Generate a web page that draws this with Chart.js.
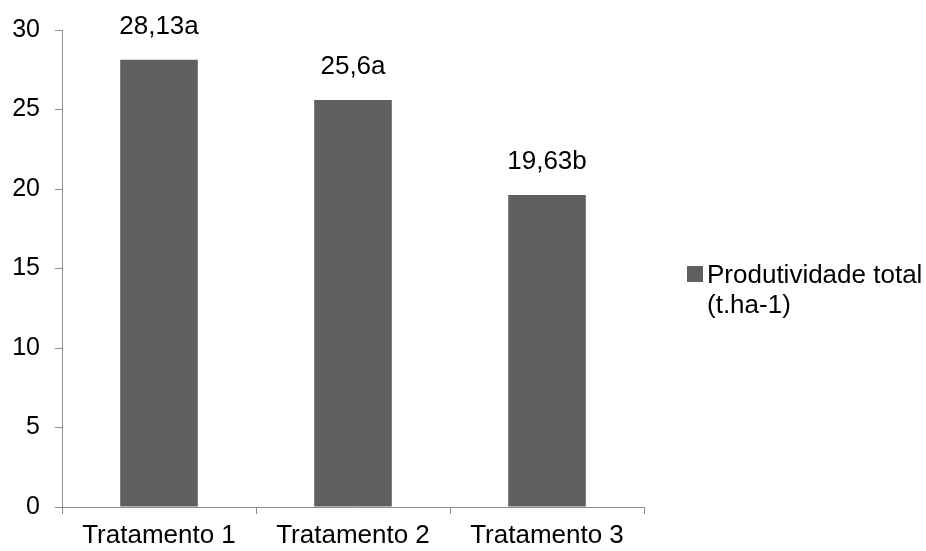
<!DOCTYPE html>
<html>
<head>
<meta charset="utf-8">
<script src="https://cdn.jsdelivr.net/npm/chart.js@4/dist/chart.umd.min.js"></script>
<style>
  html, body { margin: 0; padding: 0; background: #ffffff; }
  #wrap { width: 926px; height: 551px; position: relative; }
</style>
</head>
<body>
<div id="wrap"><canvas id="c" width="926" height="551"></canvas></div>
<script>
// Total yield per treatment, with significance letters
const categories = ["Tratamento 1", "Tratamento 2", "Tratamento 3"];
const productivity = [28.13, 25.6, 19.63];
const groups = ["a", "a", "b"];
const yTicks = [0, 5, 10, 15, 20, 25, 30];
const seriesLabel = ["Produtividade total", "(t.ha-1)"];

const FONT = "'Liberation Sans', Arial, sans-serif";
const BAR_COLOR = "#5f5f5f";
const AXIS_COLOR = "#8c8c8c";

function formatValue(v) {
  return String(v).replace(".", ",");
}

// value + letter above each bar
const barLabels = {
  id: "barLabels",
  afterDatasetsDraw(chart) {
    const ctx = chart.ctx;
    const meta = chart.getDatasetMeta(0);
    ctx.save();
    ctx.font = "26px " + FONT;
    ctx.fillStyle = "#000000";
    ctx.textAlign = "center";
    ctx.textBaseline = "alphabetic";
    meta.data.forEach((bar, i) => {
      const txt = formatValue(productivity[i]) + groups[i];
      ctx.fillText(txt, bar.x, bar.y - 26);
    });
    ctx.restore();
  }
};

// legend on the right, text wrapped on two lines
const sideLegend = {
  id: "sideLegend",
  afterDraw(chart) {
    const ctx = chart.ctx;
    const ds = chart.data.datasets[0];
    ctx.save();
    ctx.fillStyle = ds.backgroundColor;
    ctx.fillRect(687, 266, 16, 16);
    ctx.font = "26px " + FONT;
    ctx.fillStyle = "#000000";
    ctx.textAlign = "left";
    ctx.textBaseline = "alphabetic";
    ds.label.forEach((line, i) => {
      ctx.fillText(line, 707, 283 + i * 30);
    });
    ctx.restore();
  }
};

new Chart(document.getElementById("c"), {
  type: "bar",
  data: {
    labels: categories,
    datasets: [{
      label: seriesLabel,
      data: productivity,
      backgroundColor: BAR_COLOR,
      borderWidth: 0,
      categoryPercentage: 1.0,
      barPercentage: 0.4
    }]
  },
  options: {
    responsive: false,
    animation: false,
    devicePixelRatio: 1,
    layout: { padding: { top: 26, right: 282, left: 0, bottom: 0 } },
    plugins: {
      legend: { display: false },
      tooltip: { enabled: false }
    },
    scales: {
      x: {
        grid: {
          display: true,
          offset: true,
          drawOnChartArea: false,
          drawTicks: true,
          tickLength: 7,
          color: AXIS_COLOR
        },
        border: { display: true, color: AXIS_COLOR, width: 1 },
        ticks: {
          color: "#000000",
          font: { family: FONT, size: 26 },
          padding: 6,
          maxRotation: 0
        },
        afterFit(scale) { scale.height = 44; }
      },
      y: {
        min: 0,
        max: 30,
        afterBuildTicks(scale) {
          scale.ticks = yTicks.map(v => ({ value: v }));
        },
        grid: {
          display: true,
          drawOnChartArea: false,
          drawTicks: true,
          tickLength: 7,
          color: AXIS_COLOR
        },
        border: { display: true, color: AXIS_COLOR, width: 1 },
        ticks: {
          color: "#000000",
          font: { family: FONT, size: 25 },
          padding: 15
        },
        afterFit(scale) { scale.width = 62; }
      }
    }
  },
  plugins: [barLabels, sideLegend]
});
</script>
</body>
</html>
